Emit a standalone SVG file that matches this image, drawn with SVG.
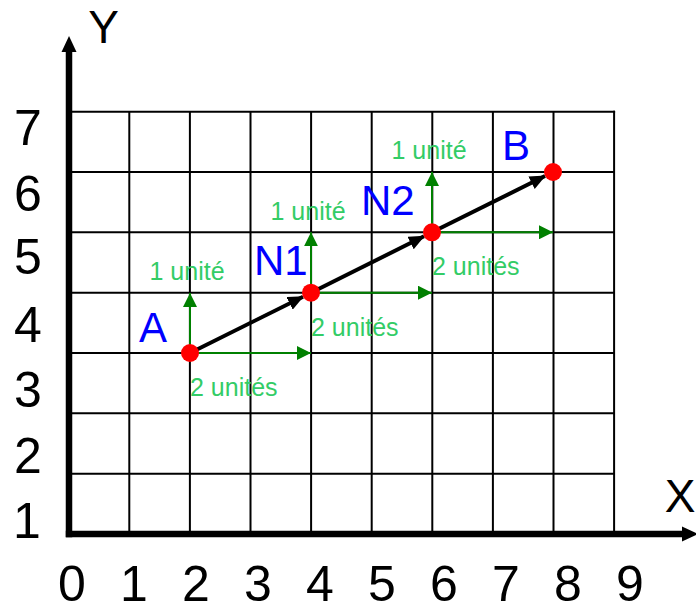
<svg xmlns="http://www.w3.org/2000/svg" width="696" height="606" viewBox="0 0 696 606">
<style>
.grid{stroke:#000;stroke-width:2;fill:none}
.axis{stroke:#000;stroke-width:6.5;fill:none}
.num{font-family:"Liberation Sans",Arial,sans-serif;font-size:50px;fill:#000;text-anchor:middle}
.ax{font-family:"Liberation Sans",Arial,sans-serif;font-size:46px;fill:#000;text-anchor:middle}
.pt{font-family:"Liberation Sans",Arial,sans-serif;font-size:42px;fill:#0000ff}
.unit{font-family:"Liberation Sans",Arial,sans-serif;font-size:25px;fill:#33cc66}
.garrow{stroke:#008000;stroke-width:2;fill:none;marker-end:url(#gh)}
.barrow{stroke:#000;stroke-width:4;fill:none;marker-end:url(#bh)}
.dot{fill:#ff0000}
</style>
<defs>
<marker id="gh" markerUnits="userSpaceOnUse" markerWidth="14" markerHeight="14" refX="14" refY="7" orient="auto" viewBox="0 0 14 14">
<path d="M0,0 L14,7 L0,14 z" fill="#008000"/>
</marker>
<marker id="bh" markerUnits="userSpaceOnUse" markerWidth="16" markerHeight="14" refX="15" refY="7" orient="auto" viewBox="0 0 16 14">
<path d="M0,0 L16,7 L0,14 z" fill="#000"/>
</marker>
</defs>
<rect width="696" height="606" fill="#fff"/>
<g id="grid" class="grid">
<line x1="129.3" y1="111.7" x2="129.3" y2="534"/>
<line x1="189.9" y1="111.7" x2="189.9" y2="534"/>
<line x1="250.5" y1="111.7" x2="250.5" y2="534"/>
<line x1="311.1" y1="111.7" x2="311.1" y2="534"/>
<line x1="371.7" y1="111.7" x2="371.7" y2="534"/>
<line x1="432.3" y1="111.7" x2="432.3" y2="534"/>
<line x1="492.9" y1="111.7" x2="492.9" y2="534"/>
<line x1="553.5" y1="111.7" x2="553.5" y2="534"/>
<line x1="614.1" y1="110.7" x2="614.1" y2="534"/>
<line x1="69" y1="473.7" x2="614.1" y2="473.7"/>
<line x1="69" y1="413.3" x2="614.1" y2="413.3"/>
<line x1="69" y1="353" x2="614.1" y2="353"/>
<line x1="69" y1="292.7" x2="614.1" y2="292.7"/>
<line x1="69" y1="232.3" x2="614.1" y2="232.3"/>
<line x1="69" y1="172" x2="614.1" y2="172"/>
<line x1="69" y1="111.7" x2="615.1" y2="111.7"/>
</g>
<g id="axes">
<line class="axis" x1="69" y1="537.2" x2="69" y2="50"/>
<polygon points="61.5,52 69,36 76.5,52" fill="#000"/>
<line class="axis" x1="65.8" y1="534" x2="684" y2="534"/>
<polygon points="682,526.5 698,534 682,541.5" fill="#000"/>
<text class="ax" x="103.5" y="43">Y</text>
<text class="ax" x="680" y="512">X</text>
</g>
<g id="xlabels" class="num">
<text x="72" y="601">0</text>
<text x="134" y="601">1</text>
<text x="196" y="601">2</text>
<text x="258" y="601">3</text>
<text x="320" y="601">4</text>
<text x="382" y="601">5</text>
<text x="444" y="601">6</text>
<text x="506" y="601">7</text>
<text x="568" y="601">8</text>
<text x="630" y="601">9</text>
</g>
<g id="ylabels" class="num">
<text x="27" y="538">1</text>
<text x="28" y="472.5">2</text>
<text x="28" y="407">3</text>
<text x="28" y="341.5">4</text>
<text x="28" y="274">5</text>
<text x="28" y="210.5">6</text>
<text x="28" y="145">7</text>
</g>
<g id="connectors">
<line class="garrow" x1="190" y1="353" x2="190" y2="293"/>
<line class="garrow" x1="190" y1="353" x2="311" y2="353"/>
<line class="garrow" x1="311" y1="292.7" x2="311" y2="232.3"/>
<line class="garrow" x1="311" y1="292.7" x2="432" y2="292.7"/>
<line class="garrow" x1="432" y1="232.3" x2="432" y2="172"/>
<line class="garrow" x1="432" y1="232.3" x2="553" y2="232.3"/>
<line class="barrow" x1="190" y1="353" x2="303" y2="296.7"/>
<line class="barrow" x1="311" y1="292.7" x2="424" y2="236.3"/>
<line class="barrow" x1="432" y1="232.3" x2="545" y2="176"/>
</g>
<g id="A">
<circle class="dot" cx="190" cy="353" r="9"/>
<text class="pt" x="139" y="341.5">A</text>
<text class="unit" x="149.5" y="280">1 unité</text>
<text class="unit" x="190" y="396">2 unités</text>
</g>
<g id="N1">
<circle class="dot" cx="311" cy="292.7" r="9"/>
<text class="pt" x="254" y="275">N1</text>
<text class="unit" x="270.5" y="219.5">1 unité</text>
<text class="unit" x="311" y="335.5">2 unités</text>
</g>
<g id="N2">
<circle class="dot" cx="432" cy="232.3" r="9"/>
<text class="pt" x="361" y="215">N2</text>
<text class="unit" x="391.5" y="159">1 unité</text>
<text class="unit" x="432" y="275">2 unités</text>
</g>
<g id="B">
<circle class="dot" cx="553" cy="172" r="9"/>
<text class="pt" x="502" y="160">B</text>
</g>
</svg>
